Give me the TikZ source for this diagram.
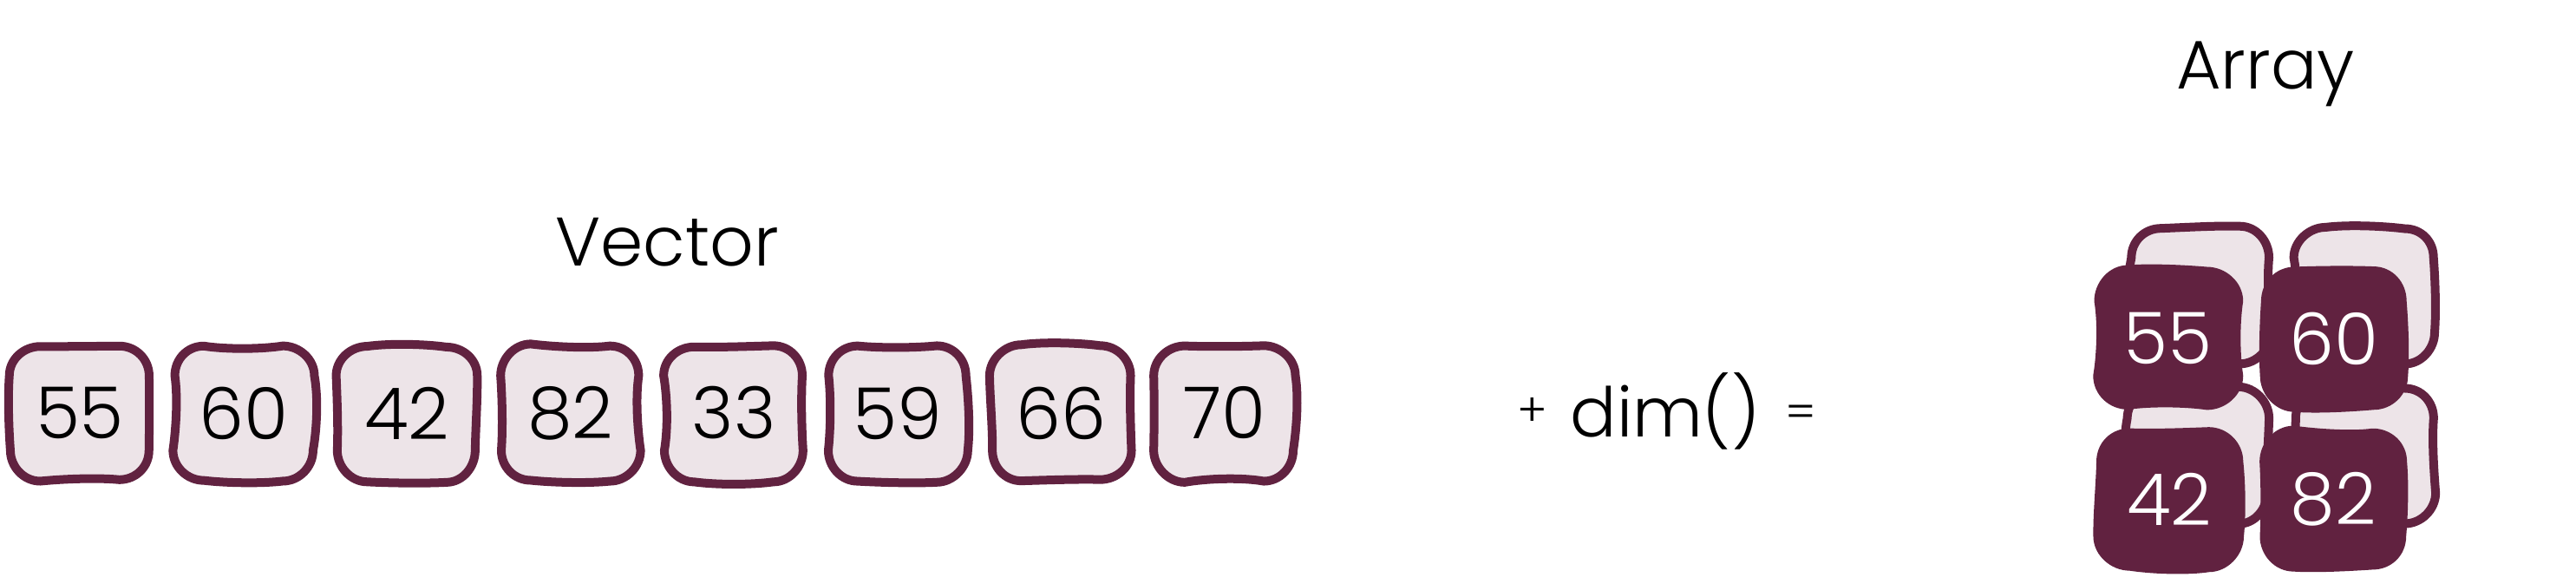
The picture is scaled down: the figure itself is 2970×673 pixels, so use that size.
\documentclass[tikz,border=0pt]{standalone}
\usepackage{fontspec}
\setmainfont{Poppins}[UprightFont={* Light}]
\usetikzlibrary{calc}
\definecolor{vino}{HTML}{612240}
\definecolor{rosado}{HTML}{EDE4E8}
\pgfdeclarelayer{fondo}
\pgfsetlayers{fondo,main}
\tikzset{
  every picture/.style={x=0.01cm, y=-0.01cm},
  celda/.style={minimum width=1.61cm, minimum height=1.56cm, inner sep=0pt, outer sep=0pt,
              text=black, font=\fontsize{23.5}{28}\selectfont},
  celdaosc/.style={celda, text=white},
  trazo/.style={draw=vino, line width=0.1cm, line join=round},
  titulo/.style={font=\fontsize{22.5}{27}\selectfont, anchor=base},
  signo/.style={font=\fontsize{15}{18}\selectfont},
}
% caja dibujada a mano alrededor de un nodo (#1 nodo, #2 relleno)
\newcommand{\cajamano}[2]{%
  \pgfmathsetmacro\ta{rand*2}\pgfmathsetmacro\tb{rand*5}\pgfmathsetmacro\tc{rand*2}%
  \pgfmathsetmacro\ra{rand*2}\pgfmathsetmacro\rb{rand*5}\pgfmathsetmacro\rc{rand*2}%
  \pgfmathsetmacro\ba{rand*2}\pgfmathsetmacro\bb{rand*5}\pgfmathsetmacro\bc{rand*2}%
  \pgfmathsetmacro\la{rand*2}\pgfmathsetmacro\lb{rand*5}\pgfmathsetmacro\lc{rand*2}%
  \begin{pgfonlayer}{fondo}
  \draw[trazo, fill=#2]
    ($(#1.north west)+(35,\ta)$)
      .. controls ($(#1.north west)+(60,\ta+\tb)$) and ($(#1.north east)+(-60,\tc+\tb)$) .. ($(#1.north east)+(-35,\tc)$)
      .. controls ($(#1.north east)+(-16,\tc)$) and ($(#1.north east)+(\ra,16)$) .. ($(#1.north east)+(\ra,35)$)
      .. controls ($(#1.north east)+(\ra+\rb,60)$) and ($(#1.south east)+(\rc+\rb,-60)$) .. ($(#1.south east)+(\rc,-35)$)
      .. controls ($(#1.south east)+(\rc,-16)$) and ($(#1.south east)+(-16,\bc)$) .. ($(#1.south east)+(-35,\bc)$)
      .. controls ($(#1.south east)+(-60,\bc+\bb)$) and ($(#1.south west)+(60,\ba+\bb)$) .. ($(#1.south west)+(35,\ba)$)
      .. controls ($(#1.south west)+(16,\ba)$) and ($(#1.south west)+(\lc,-16)$) .. ($(#1.south west)+(\lc,-35)$)
      .. controls ($(#1.south west)+(\lc+\lb,-60)$) and ($(#1.north west)+(\la+\lb,60)$) .. ($(#1.north west)+(\la,35)$)
      .. controls ($(#1.north west)+(\la,16)$) and ($(#1.north west)+(16,\ta)$) .. cycle;
  \end{pgfonlayer}}

\begin{document}
\begin{tikzpicture}
  \useasboundingbox (0,0) rectangle (2970,673);
  \pgfmathsetseed{11}
  % vector
  \node[titulo] (vec) at (769,306) {Vector};
  \foreach \val [count=\i] in {55,60,42,82,33,59,66,70}{
    \node[celda] (v\i) at ({92+188.5*(\i-1)},476) {\val};
    \cajamano{v\i}{rosado}
  }
  \node[signo] (mas) at (1767,475) {+};
  \node[titulo] (dimf) at (1920,503) {dim()};
  \node[signo] (igual) at (2076,480) {=};
  % array
  \node[titulo] (arr) at (2612,103) {Array};
  \node[celda] (b1) at (2537,340) {}; \cajamano{b1}{rosado}
  \node[celda] (b2) at (2727,340) {}; \cajamano{b2}{rosado}
  \node[celda] (b3) at (2535,525) {}; \cajamano{b3}{rosado}
  \node[celda] (b4) at (2727,525) {}; \cajamano{b4}{rosado}
  \node[celdaosc] (a1) at (2499,390) {55}; \cajamano{a1}{vino}
  \node[celdaosc] (a2) at (2691,390) {60}; \cajamano{a2}{vino}
  \node[celdaosc] (a3) at (2501,575) {42}; \cajamano{a3}{vino}
  \node[celdaosc] (a4) at (2690,575) {82}; \cajamano{a4}{vino}
\end{tikzpicture}
\end{document}
